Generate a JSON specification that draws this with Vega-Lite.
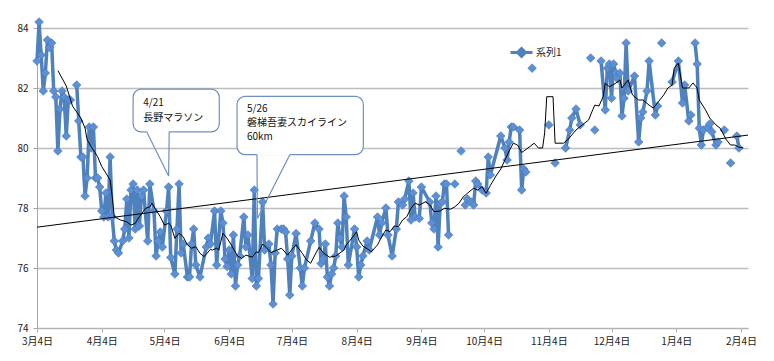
{
  "$schema": "https://vega.github.io/schema/vega-lite/v6.json",
  "width": 711,
  "height": 300,
  "autosize": "none",
  "padding": {"left": 37, "top": 28, "right": 26, "bottom": 33},
  "background": "white",
  "config": {
    "view": {"stroke": null},
    "font": "Noto Sans CJK JP",
    "axis": {"labelFont": "Noto Sans CJK JP", "labelFontSize": 10, "labelColor": "#222222", "title": null},
    "legend": {"labelFont": "Noto Sans CJK JP"}
  },
  "datasets": {
    "main": [
      {"d":"2012/03/04","v":82.9},{"d":"2012/03/05","v":84.2},{"d":"2012/03/06","v":83.1},{"d":"2012/03/07","v":81.9},
      {"d":"2012/03/08","v":82.5},{"d":"2012/03/09","v":83.6},{"d":"2012/03/10","v":83.35},{"d":"2012/03/11","v":83.5},
      {"d":"2012/03/12","v":81.9},{"d":"2012/03/13","v":81.7},{"d":"2012/03/14","v":79.9},{"d":"2012/03/15","v":81.3},
      {"d":"2012/03/16","v":81.9},{"d":"2012/03/17","v":81.7},{"d":"2012/03/18","v":80.4},{"d":"2012/03/19","v":81.6},
      {"d":"2012/03/20","v":81.6},{"d":"2012/03/21","v":null},{"d":"2012/03/23","v":82.1},{"d":"2012/03/24","v":80.9},
      {"d":"2012/03/25","v":79.7},{"d":"2012/03/26","v":79.7},{"d":"2012/03/27","v":78.4},{"d":"2012/03/28","v":79.0},
      {"d":"2012/03/29","v":80.7},{"d":"2012/03/30","v":80.0},{"d":"2012/03/31","v":80.7},{"d":"2012/04/01","v":79.0},
      {"d":"2012/04/02","v":79.0},{"d":"2012/04/03","v":78.7},{"d":"2012/04/04","v":77.9},{"d":"2012/04/05","v":77.7},
      {"d":"2012/04/06","v":78.5},{"d":"2012/04/07","v":77.7},{"d":"2012/04/08","v":79.7},{"d":"2012/04/09","v":77.7},
      {"d":"2012/04/10","v":76.9},{"d":"2012/04/11","v":76.6},{"d":"2012/04/12","v":76.5},{"d":"2012/04/14","v":76.9},
      {"d":"2012/04/15","v":77.3},{"d":"2012/04/16","v":78.3},{"d":"2012/04/17","v":77.0},{"d":"2012/04/18","v":78.6},
      {"d":"2012/04/19","v":78.8},{"d":"2012/04/20","v":77.3},{"d":"2012/04/21","v":78.6},{"d":"2012/04/22","v":77.4},
      {"d":"2012/04/23","v":78.4},{"d":"2012/04/24","v":78.6},{"d":"2012/04/26","v":76.9},{"d":"2012/04/27","v":78.8},
      {"d":"2012/04/29","v":77.9},{"d":"2012/04/30","v":76.4},{"d":"2012/05/01","v":76.9},{"d":"2012/05/02","v":77.2},
      {"d":"2012/05/03","v":76.7},{"d":"2012/05/05","v":77.9},{"d":"2012/05/06","v":78.7},{"d":"2012/05/07","v":76.35},
      {"d":"2012/05/09","v":75.8},{"d":"2012/05/10","v":77.3},{"d":"2012/05/11","v":78.8},{"d":"2012/05/12","v":76.5},
      {"d":"2012/05/13","v":76.8},{"d":"2012/05/15","v":75.7},{"d":"2012/05/16","v":75.7},{"d":"2012/05/17","v":76.8},
      {"d":"2012/05/18","v":77.3},{"d":"2012/05/19","v":76.1},{"d":"2012/05/21","v":75.7},{"d":"2012/05/24","v":76.7},
      {"d":"2012/05/25","v":77.0},{"d":"2012/05/26","v":76.8},{"d":"2012/05/28","v":77.9},{"d":"2012/05/29","v":76.1},
      {"d":"2012/05/31","v":77.9},{"d":"2012/06/01","v":77.5},{"d":"2012/06/02","v":76.3},{"d":"2012/06/03","v":76.05},
      {"d":"2012/06/04","v":76.6},{"d":"2012/06/05","v":75.8},{"d":"2012/06/06","v":77.1},{"d":"2012/06/07","v":75.4},
      {"d":"2012/06/08","v":76.1},{"d":"2012/06/09","v":76.4},{"d":"2012/06/11","v":77.7},{"d":"2012/06/12","v":76.7},
      {"d":"2012/06/13","v":77.1},{"d":"2012/06/15","v":75.65},{"d":"2012/06/16","v":78.6},{"d":"2012/06/17","v":75.4},
      {"d":"2012/06/18","v":75.65},{"d":"2012/06/20","v":78.2},{"d":"2012/06/21","v":76.6},{"d":"2012/06/23","v":76.8},
      {"d":"2012/06/24","v":76.1},{"d":"2012/06/25","v":74.8},{"d":"2012/06/26","v":76.5},{"d":"2012/06/27","v":77.3},
      {"d":"2012/06/29","v":77.3},{"d":"2012/06/30","v":77.3},{"d":"2012/07/01","v":77.2},{"d":"2012/07/02","v":76.3},
      {"d":"2012/07/03","v":75.1},{"d":"2012/07/04","v":76.4},{"d":"2012/07/06","v":77.15},{"d":"2012/07/08","v":76.0},
      {"d":"2012/07/09","v":75.4},{"d":"2012/07/10","v":76.0},{"d":"2012/07/13","v":76.9},{"d":"2012/07/15","v":77.5},
      {"d":"2012/07/17","v":77.3},{"d":"2012/07/18","v":76.15},{"d":"2012/07/19","v":76.3},{"d":"2012/07/20","v":76.8},
      {"d":"2012/07/21","v":75.7},{"d":"2012/07/22","v":75.4},{"d":"2012/07/23","v":75.8},{"d":"2012/07/24","v":76.0},
      {"d":"2012/07/25","v":76.4},{"d":"2012/07/26","v":77.5},{"d":"2012/07/27","v":77.0},{"d":"2012/07/28","v":76.7},
      {"d":"2012/07/29","v":78.4},{"d":"2012/07/30","v":77.7},{"d":"2012/07/31","v":76.1},{"d":"2012/08/03","v":77.3},
      {"d":"2012/08/04","v":76.7},{"d":"2012/08/05","v":75.7},{"d":"2012/08/06","v":76.1},{"d":"2012/08/07","v":76.4},
      {"d":"2012/08/09","v":76.9},{"d":"2012/08/10","v":76.6},{"d":"2012/08/14","v":77.7},{"d":"2012/08/15","v":77.1},
      {"d":"2012/08/16","v":77.5},{"d":"2012/08/18","v":78.0},{"d":"2012/08/19","v":77.1},{"d":"2012/08/21","v":76.4},
      {"d":"2012/08/23","v":77.3},{"d":"2012/08/24","v":78.2},{"d":"2012/08/26","v":78.1},{"d":"2012/08/27","v":78.3},
      {"d":"2012/08/29","v":78.9},{"d":"2012/08/30","v":77.6},{"d":"2012/08/31","v":78.5},{"d":"2012/09/01","v":77.7},
      {"d":"2012/09/03","v":77.65},{"d":"2012/09/04","v":78.7},{"d":"2012/09/08","v":78.2},{"d":"2012/09/09","v":77.5},
      {"d":"2012/09/10","v":77.3},{"d":"2012/09/11","v":78.4},{"d":"2012/09/12","v":76.7},{"d":"2012/09/13","v":78.15},
      {"d":"2012/09/14","v":78.2},{"d":"2012/09/15","v":78.8},{"d":"2012/09/16","v":78.8},{"d":"2012/09/17","v":77.1},
      {"d":"2012/09/18","v":null},{"d":"2012/09/20","v":78.8},{"d":"2012/09/21","v":null},{"d":"2012/09/23","v":79.9},
      {"d":"2012/09/24","v":null},{"d":"2012/09/25","v":78.1},{"d":"2012/09/26","v":78.3},{"d":"2012/09/28","v":78.2},
      {"d":"2012/09/29","v":78.1},{"d":"2012/09/30","v":78.9},{"d":"2012/10/01","v":78.8},{"d":"2012/10/03","v":78.6},
      {"d":"2012/10/05","v":78.5},{"d":"2012/10/06","v":79.7},{"d":"2012/10/07","v":79.1},{"d":"2012/10/12","v":80.4},
      {"d":"2012/10/14","v":80.0},{"d":"2012/10/15","v":79.6},{"d":"2012/10/16","v":80.2},{"d":"2012/10/17","v":80.7},
      {"d":"2012/10/18","v":80.7},{"d":"2012/10/21","v":80.6},{"d":"2012/10/22","v":78.6},{"d":"2012/10/23","v":79.3},
      {"d":"2012/10/24","v":79.2},{"d":"2012/10/25","v":null},{"d":"2012/10/27","v":82.66},{"d":"2012/10/28","v":null},
      {"d":"2012/11/04","v":80.77},{"d":"2012/11/05","v":null},{"d":"2012/11/07","v":79.5},{"d":"2012/11/08","v":null},
      {"d":"2012/11/12","v":80.0},{"d":"2012/11/14","v":80.6},{"d":"2012/11/15","v":81.0},{"d":"2012/11/17","v":81.3},
      {"d":"2012/11/19","v":80.77},{"d":"2012/11/20","v":null},{"d":"2012/11/24","v":83.0},{"d":"2012/11/25","v":null},
      {"d":"2012/11/26","v":80.6},{"d":"2012/11/27","v":null},{"d":"2012/11/29","v":82.9},{"d":"2012/12/01","v":81.27},
      {"d":"2012/12/02","v":82.66},{"d":"2012/12/03","v":82.8},{"d":"2012/12/04","v":81.66},{"d":"2012/12/05","v":82.8},
      {"d":"2012/12/06","v":82.5},{"d":"2012/12/07","v":82.3},{"d":"2012/12/08","v":82.5},{"d":"2012/12/09","v":81.07},
      {"d":"2012/12/10","v":81.66},{"d":"2012/12/11","v":83.5},{"d":"2012/12/12","v":81.9},{"d":"2012/12/15","v":82.4},
      {"d":"2012/12/17","v":80.2},{"d":"2012/12/18","v":81.0},{"d":"2012/12/19","v":81.2},{"d":"2012/12/21","v":81.9},
      {"d":"2012/12/22","v":82.9},{"d":"2012/12/25","v":81.1},{"d":"2012/12/26","v":81.4},{"d":"2012/12/27","v":null},
      {"d":"2012/12/28","v":83.5},{"d":"2012/12/29","v":null},{"d":"2013/01/02","v":82.2},{"d":"2013/01/05","v":82.9},
      {"d":"2013/01/07","v":81.5},{"d":"2013/01/08","v":82.1},{"d":"2013/01/10","v":80.9},{"d":"2013/01/11","v":81.1},
      {"d":"2013/01/12","v":null},{"d":"2013/01/13","v":83.5},{"d":"2013/01/14","v":82.8},{"d":"2013/01/15","v":80.66},
      {"d":"2013/01/16","v":80.1},{"d":"2013/01/17","v":80.6},{"d":"2013/01/19","v":80.69},{"d":"2013/01/20","v":80.8},
      {"d":"2013/01/21","v":80.54},{"d":"2013/01/23","v":80.1},{"d":"2013/01/24","v":80.2},{"d":"2013/01/25","v":null},
      {"d":"2013/01/27","v":80.6},{"d":"2013/01/28","v":null},{"d":"2013/01/30","v":79.5},{"d":"2013/01/31","v":null},
      {"d":"2013/02/02","v":80.4},{"d":"2013/02/03","v":80.0}
    ],
    "ma": [
      {"d":"2012/03/14","v":82.58},{"d":"2012/03/18","v":82.07},{"d":"2012/03/21","v":81.4},{"d":"2012/03/25","v":81.0},
      {"d":"2012/03/27","v":80.66},{"d":"2012/03/28","v":80.27},{"d":"2012/03/30","v":80.04},{"d":"2012/04/02","v":79.71},
      {"d":"2012/04/04","v":79.38},{"d":"2012/04/06","v":79.16},{"d":"2012/04/08","v":78.93},{"d":"2012/04/09","v":78.38},
      {"d":"2012/04/10","v":77.71},{"d":"2012/04/13","v":77.6},{"d":"2012/04/16","v":77.54},{"d":"2012/04/18","v":77.43},
      {"d":"2012/04/20","v":77.49},{"d":"2012/04/22","v":77.71},{"d":"2012/04/25","v":77.99},{"d":"2012/04/27","v":78.04},
      {"d":"2012/04/28","v":78.16},{"d":"2012/04/30","v":77.93},{"d":"2012/05/02","v":77.71},{"d":"2012/05/04","v":77.43},
      {"d":"2012/05/06","v":77.49},{"d":"2012/05/07","v":77.43},{"d":"2012/05/09","v":76.99},{"d":"2012/05/11","v":77.16},
      {"d":"2012/05/13","v":77.04},{"d":"2012/05/15","v":76.77},{"d":"2012/05/17","v":76.66},{"d":"2012/05/19","v":76.71},
      {"d":"2012/05/21","v":76.49},{"d":"2012/05/23","v":76.38},{"d":"2012/05/26","v":76.62},{"d":"2012/05/27","v":76.6},
      {"d":"2012/05/29","v":76.66},{"d":"2012/05/30","v":76.6},{"d":"2012/06/01","v":77.16},{"d":"2012/06/03","v":76.99},
      {"d":"2012/06/05","v":76.77},{"d":"2012/06/08","v":76.4},{"d":"2012/06/10","v":76.32},{"d":"2012/06/12","v":76.43},
      {"d":"2012/06/15","v":76.36},{"d":"2012/06/17","v":76.54},{"d":"2012/06/18","v":76.51},{"d":"2012/06/20","v":76.8},
      {"d":"2012/06/22","v":76.66},{"d":"2012/06/24","v":76.51},{"d":"2012/06/27","v":76.6},{"d":"2012/06/29","v":76.66},
      {"d":"2012/07/02","v":76.43},{"d":"2012/07/04","v":76.62},{"d":"2012/07/06","v":76.77},{"d":"2012/07/09","v":76.49},
      {"d":"2012/07/11","v":76.27},{"d":"2012/07/13","v":76.16},{"d":"2012/07/15","v":76.43},{"d":"2012/07/17","v":76.69},
      {"d":"2012/07/19","v":76.51},{"d":"2012/07/22","v":76.36},{"d":"2012/07/25","v":76.4},{"d":"2012/07/29","v":76.6},
      {"d":"2012/07/30","v":76.77},{"d":"2012/08/01","v":76.93},{"d":"2012/08/04","v":77.21},{"d":"2012/08/05","v":76.93},
      {"d":"2012/08/07","v":76.73},{"d":"2012/08/10","v":76.6},{"d":"2012/08/11","v":76.54},{"d":"2012/08/14","v":76.77},
      {"d":"2012/08/16","v":77.04},{"d":"2012/08/18","v":77.27},{"d":"2012/08/20","v":77.21},{"d":"2012/08/22","v":77.4},
      {"d":"2012/08/24","v":77.38},{"d":"2012/08/26","v":77.6},{"d":"2012/08/28","v":77.71},{"d":"2012/08/30","v":77.99},
      {"d":"2012/09/01","v":78.16},{"d":"2012/09/03","v":78.1},{"d":"2012/09/06","v":78.21},{"d":"2012/09/08","v":78.1},
      {"d":"2012/09/10","v":77.88},{"d":"2012/09/13","v":77.9},{"d":"2012/09/15","v":77.99},{"d":"2012/09/18","v":77.96},
      {"d":"2012/09/20","v":78.04},{"d":"2012/09/22","v":78.16},{"d":"2012/09/24","v":78.37},{"d":"2012/09/26","v":78.49},
      {"d":"2012/09/29","v":78.66},{"d":"2012/10/01","v":78.6},{"d":"2012/10/03","v":78.71},{"d":"2012/10/05","v":78.49},
      {"d":"2012/10/07","v":78.75},{"d":"2012/10/10","v":79.1},{"d":"2012/10/12","v":79.3},{"d":"2012/10/14","v":79.6},
      {"d":"2012/10/16","v":79.9},{"d":"2012/10/18","v":80.16},{"d":"2012/10/20","v":80.1},{"d":"2012/10/22","v":79.85},
      {"d":"2012/10/25","v":80.0},{"d":"2012/10/28","v":80.16},{"d":"2012/10/30","v":80.0},{"d":"2012/11/01","v":80.0},
      {"d":"2012/11/02","v":80.5},{"d":"2012/11/03","v":81.71},{"d":"2012/11/06","v":81.71},{"d":"2012/11/07","v":80.16},
      {"d":"2012/11/11","v":80.16},{"d":"2012/11/13","v":80.27},{"d":"2012/11/17","v":80.6},{"d":"2012/11/20","v":80.77},
      {"d":"2012/11/23","v":80.93},{"d":"2012/11/25","v":81.27},{"d":"2012/11/26","v":81.43},{"d":"2012/11/28","v":81.4},
      {"d":"2012/11/30","v":81.71},{"d":"2012/12/01","v":82.16},{"d":"2012/12/03","v":82.04},{"d":"2012/12/06","v":82.16},
      {"d":"2012/12/08","v":82.27},{"d":"2012/12/09","v":82.0},{"d":"2012/12/12","v":82.27},{"d":"2012/12/14","v":81.77},
      {"d":"2012/12/17","v":81.6},{"d":"2012/12/19","v":81.6},{"d":"2012/12/22","v":81.43},{"d":"2012/12/24","v":81.33},
      {"d":"2012/12/26","v":81.5},{"d":"2012/12/29","v":81.77},{"d":"2012/12/31","v":82.0},{"d":"2013/01/02","v":82.1},
      {"d":"2013/01/03","v":82.66},{"d":"2013/01/05","v":82.83},{"d":"2013/01/07","v":82.0},{"d":"2013/01/10","v":82.0},
      {"d":"2013/01/12","v":82.17},{"d":"2013/01/14","v":82.0},{"d":"2013/01/15","v":81.6},{"d":"2013/01/18","v":81.27},
      {"d":"2013/01/20","v":81.0},{"d":"2013/01/23","v":80.77},{"d":"2013/01/25","v":80.66},{"d":"2013/01/28","v":80.27},
      {"d":"2013/01/30","v":80.1},{"d":"2013/02/01","v":80.1},{"d":"2013/02/03","v":80.03},{"d":"2013/02/05","v":80.0}
    ],
    "trend": [{"d":"2012/03/04","v":77.36},{"d":"2013/02/07 08:00","v":80.43}],
    "boxes": [
      {"x1":"2012/04/19","x2":"2012/05/30 06:00","y1":81.96,"y2":80.54},
      {"x1":"2012/06/07 18:00","x2":"2012/08/07 05:00","y1":81.72,"y2":79.78}
    ],
    "tails": [
      {"id":1,"o":1,"d":"2012/04/25 12:00","v":80.54},{"id":1,"o":2,"d":"2012/05/06","v":79.07},{"id":1,"o":3,"d":"2012/05/06 07:00","v":80.54},
      {"id":2,"o":1,"d":"2012/06/17 07:00","v":79.78},{"id":2,"o":2,"d":"2012/06/17 12:00","v":77.65},{"id":2,"o":3,"d":"2012/07/03 02:00","v":79.78}
    ],
    "covers": [
      {"x1":"2012/04/25 12:00","x2":"2012/05/06 07:00","y":80.54},
      {"x1":"2012/06/17 07:00","x2":"2012/07/03 02:00","y":79.78}
    ],
    "texts": [
      {"d":"2012/04/23 21:00","v":81.5,"t":"4/21"},
      {"d":"2012/04/23 21:00","v":80.99,"t":"長野マラソン"},
      {"d":"2012/06/12 12:00","v":81.3,"t":"5/26"},
      {"d":"2012/06/12 12:00","v":80.84,"t":"磐梯吾妻スカイライン"},
      {"d":"2012/06/12 12:00","v":80.37,"t":"60km"}
    ]
  },
  "layer": [
    {
      "data": {"name": "main"},
      "mark": {"type": "line", "strokeWidth": 3.5, "strokeJoin": "round"},
      "encoding": {
        "x": {
          "field": "d", "type": "temporal",
          "scale": {"domain": [{"year": 2012, "month": 3, "date": 4}, {"year": 2013, "month": 2, "date": 7, "hours": 8}]},
          "axis": {
            "values": [
              {"year": 2012, "month": 3, "date": 4}, {"year": 2012, "month": 4, "date": 4}, {"year": 2012, "month": 5, "date": 4},
              {"year": 2012, "month": 6, "date": 4}, {"year": 2012, "month": 7, "date": 4}, {"year": 2012, "month": 8, "date": 4},
              {"year": 2012, "month": 9, "date": 4}, {"year": 2012, "month": 10, "date": 4}, {"year": 2012, "month": 11, "date": 4},
              {"year": 2012, "month": 12, "date": 4}, {"year": 2013, "month": 1, "date": 4}, {"year": 2013, "month": 2, "date": 4}
            ],
            "format": "%-m月%-d日",
            "grid": false,
            "domainColor": "#b3b3b3",
            "domainWidth": 1.2,
            "tickColor": "#b3b3b3",
            "tickSize": 4,
            "labelPadding": 4,
            "labelFlush": false,
            "labelOverlap": false
          }
        },
        "y": {
          "field": "v", "type": "quantitative",
          "scale": {"domain": [74, 84], "zero": false, "nice": false},
          "axis": {
            "values": [74, 76, 78, 80, 82, 84],
            "grid": true,
            "gridColor": "#bdbdbd",
            "gridWidth": 1.3,
            "domainColor": "#a6a6a6",
            "tickColor": "#a6a6a6",
            "tickSize": 4,
            "labelPadding": 5
          }
        },
        "color": {
          "datum": "系列1",
          "scale": {"range": ["#4f81bd"]},
          "legend": {
            "title": null,
            "orient": "none",
            "legendX": 472,
            "legendY": 12,
            "padding": 0,
            "symbolType": "M-1,0H1M0,-0.36L0.36,0L0,0.36L-0.36,0Z",
            "symbolSize": 484,
            "symbolStrokeWidth": 3,
            "labelFontSize": 10,
            "labelColor": "#222222",
            "labelOffset": 2,
            "encode": {"symbols": {"update": {"fill": {"value": "#4f81bd"}, "stroke": {"value": "#4f81bd"}, "strokeWidth": {"value": 3}}}}
          }
        }
      }
    },
    {
      "data": {"name": "main"},
      "mark": {"type": "point", "shape": "diamond", "filled": true, "size": 75, "fill": "#5b8fd6", "stroke": "#4574b0", "strokeWidth": 0.6, "opacity": 1},
      "encoding": {
        "x": {"field": "d", "type": "temporal"},
        "y": {"field": "v", "type": "quantitative"}
      }
    },
    {
      "data": {"name": "ma"},
      "mark": {"type": "line", "color": "#000000", "strokeWidth": 1},
      "encoding": {
        "x": {"field": "d", "type": "temporal"},
        "y": {"field": "v", "type": "quantitative"}
      }
    },
    {
      "data": {"name": "trend"},
      "mark": {"type": "line", "color": "#000000", "strokeWidth": 1},
      "encoding": {
        "x": {"field": "d", "type": "temporal"},
        "y": {"field": "v", "type": "quantitative"}
      }
    },
    {
      "data": {"name": "boxes"},
      "mark": {"type": "rect", "fill": "#ffffff", "stroke": "#7090c0", "strokeWidth": 1.2, "cornerRadius": 8},
      "encoding": {
        "x": {"field": "x1", "type": "temporal"},
        "x2": {"field": "x2"},
        "y": {"field": "y1", "type": "quantitative"},
        "y2": {"field": "y2"}
      }
    },
    {
      "data": {"name": "covers"},
      "mark": {"type": "rule", "color": "#ffffff", "strokeWidth": 2.5},
      "encoding": {
        "x": {"field": "x1", "type": "temporal"},
        "x2": {"field": "x2"},
        "y": {"field": "y", "type": "quantitative"}
      }
    },
    {
      "data": {"name": "tails"},
      "mark": {"type": "line", "color": "#7090c0", "strokeWidth": 1.2},
      "encoding": {
        "x": {"field": "d", "type": "temporal"},
        "y": {"field": "v", "type": "quantitative"},
        "detail": {"field": "id"},
        "order": {"field": "o"}
      }
    },
    {
      "data": {"name": "texts"},
      "mark": {"type": "text", "align": "left", "baseline": "middle", "fontSize": 10, "color": "#111111", "font": "Noto Sans CJK JP"},
      "encoding": {
        "x": {"field": "d", "type": "temporal"},
        "y": {"field": "v", "type": "quantitative"},
        "text": {"field": "t"}
      }
    }
  ]
}
